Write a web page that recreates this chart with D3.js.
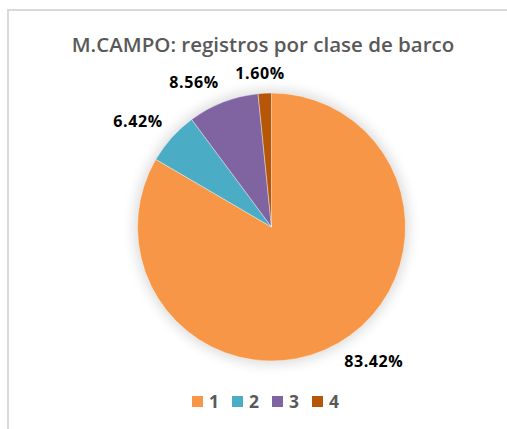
<!DOCTYPE html>
<html>
<head>
<meta charset="utf-8">
<script src="https://cdn.jsdelivr.net/npm/d3@7"></script>
<style>
  body { margin: 0; background: #fff; }
  svg { display: block; }
</style>
</head>
<body>
<svg id="chart" width="507" height="429"></svg>
<script>
// data
const categories = ["1", "2", "3", "4"];
const shares = [83.42, 6.42, 8.56, 1.60];
const colors = ["#F79646", "#4BACC6", "#8064A2", "#B65708"];
const title = "M.CAMPO: registros por clase de barco";

const svg = d3.select("#chart"),
    width = +svg.attr("width"),
    height = +svg.attr("height");

// chart frame (runs off the right and bottom edge)
svg.append("rect")
  .attr("x", 8)
  .attr("y", 10)
  .attr("width", 520)
  .attr("height", 440)
  .attr("fill", "#fff")
  .attr("stroke", "#d9d9d9")
  .attr("stroke-width", 2);

svg.append("text")
  .attr("x", 263)
  .attr("y", 52)
  .attr("text-anchor", "middle")
  .style("font-family", "'Open Sans', sans-serif")
  .style("font-weight", "600")
  .style("font-size", "20.5px")
  .style("fill", "#595959")
  .text(title);

const cx = 271.5, cy = 227, radius = 134;

const defs = svg.append("defs");
const blur = defs.append("filter")
  .attr("id", "shadow")
  .attr("x", "-30%").attr("y", "-30%")
  .attr("width", "160%").attr("height", "160%");
blur.append("feGaussianBlur").attr("stdDeviation", 7);

const g = svg.append("g").attr("transform", `translate(${cx},${cy})`);

// soft shadow behind the pie
g.append("circle")
  .attr("r", radius + 2)
  .attr("fill", "#000")
  .attr("opacity", 0.16)
  .attr("filter", "url(#shadow)");

const pie = d3.pie().sort(null).value(d => d.value);
const arcs = pie(categories.map((c, i) => ({ cat: c, value: shares[i], color: colors[i] })));

const arc = d3.arc().innerRadius(0).outerRadius(radius);

g.selectAll("path.slice")
  .data(arcs)
  .join("path")
    .attr("class", "slice")
    .attr("d", arc)
    .attr("fill", d => d.data.color)
    .attr("stroke", "#fff")
    .attr("stroke-width", 0.4);

// labels sit just outside the rim, pushed out by their own box
const pad = 12;
const clamp = v => Math.max(-1, Math.min(1, v));
const labels = g.selectAll("text.lbl")
  .data(arcs)
  .join("text")
    .attr("class", "lbl")
    .attr("text-anchor", "middle")
    .style("font-family", "'Open Sans', sans-serif")
    .style("font-weight", "bold")
    .style("font-size", "16px")
    .style("letter-spacing", "0.6px")
    .style("fill", "#000")
    .text(d => d.data.value.toFixed(2) + "%");

labels.each(function(d) {
  const w = this.getComputedTextLength(), h = 16;
  const a = (d.startAngle + d.endAngle) / 2;
  const sx = Math.sin(a), sy = -Math.cos(a);
  const px = (radius + pad) * sx + (w / 2) * clamp(sx / 0.3);
  const py = (radius + pad) * sy + (h / 2) * clamp(sy / 0.3);
  d3.select(this).attr("x", px).attr("y", py + 5.5);
});

// legend
const size = 11;
const legend = svg.append("g");
const item = legend.selectAll("g")
  .data(categories)
  .join("g")
    .attr("transform", (d, i) => `translate(${192 + i * 40},396)`);

item.append("rect")
  .attr("width", size)
  .attr("height", size)
  .attr("fill", (d, i) => colors[i]);

item.append("text")
  .attr("x", size + 6)
  .attr("y", size + 1)
  .style("font-family", "'Open Sans', sans-serif")
  .style("font-weight", "bold")
  .style("font-size", "17.5px")
  .style("fill", "#595959")
  .text(d => d);
</script>
</body>
</html>
